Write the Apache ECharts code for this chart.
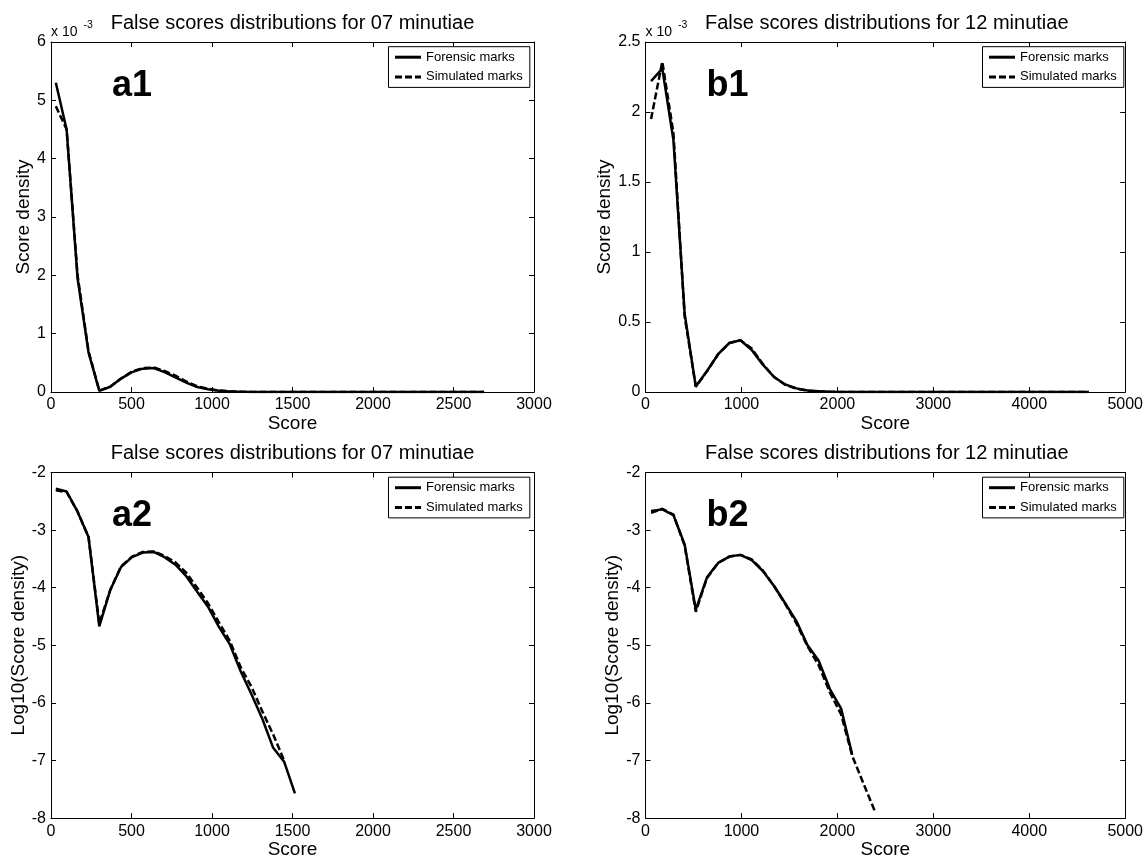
<!DOCTYPE html>
<html><head><meta charset="utf-8">
<script src="https://cdn.jsdelivr.net/npm/echarts@6/dist/echarts.min.js"></script>
<style>html,body{margin:0;padding:0;background:#fff}#c{width:1146px;height:860px}</style>
</head><body><div id="c"></div>
<script>
// ---------- data ----------
const titles = ['False scores distributions for 07 minutiae', 'False scores distributions for 12 minutiae',
                'False scores distributions for 07 minutiae', 'False scores distributions for 12 minutiae'];
const panelLetters = ['a1', 'b1', 'a2', 'b2'];
const seriesNames = ['Forensic marks', 'Simulated marks'];

// 07 minutiae, linear density (units of 10^-3)
const scoreA1 = [30,97,165,233,300,368,435,503,570,638,705,773,840,908,975,1043,1110,1178,1245,1313,1380,1448,1515,1583,2690];
const a1Forensic = [5.30,4.50,1.95,0.68,0.02,0.09,0.23,0.34,0.40,0.41,0.34,0.25,0.16,0.085,0.047,0.021,0.010,0.0035,0.0014,0.0005,0.0002,0.0001,0.00003,0,0];
const a1Simulated = [4.90,4.50,2.00,0.70,0.025,0.09,0.23,0.35,0.41,0.42,0.36,0.28,0.18,0.10,0.054,0.025,0.012,0.004,0.0019,0.0007,0.0003,0.0001,0,0,0];

// 12 minutiae, linear density (units of 10^-3)
const scoreB1 = [58,175,291,408,524,641,757,874,990,1107,1223,1340,1456,1573,1689,1806,1922,2039,2155,2272,2388,4620];
const b1Forensic = [2.22,2.31,1.80,0.56,0.04,0.15,0.27,0.35,0.37,0.30,0.195,0.107,0.054,0.026,0.010,0.0054,0.0017,0.0008,0.00013,0,0,0];
const b1Simulated = [1.95,2.36,1.85,0.54,0.038,0.148,0.27,0.35,0.37,0.31,0.20,0.107,0.052,0.024,0.0095,0.0045,0.0015,0.0006,0.00012,0.00004,0.000013,0];

// 07 minutiae, log10 density
const scoreA2 = [30,97,165,233,300,368,435,503,570,638,705,773,840,908,975,1043,1110,1178,1245,1313,1380,1448,1515];
const a2Forensic = [-2.28,-2.33,-2.68,-3.12,-4.67,-4.04,-3.64,-3.47,-3.39,-3.38,-3.47,-3.60,-3.80,-4.07,-4.33,-4.68,-4.98,-5.45,-5.85,-6.28,-6.78,-7.02,-7.57];
const a2Simulated = [-2.31,-2.34,-2.68,-3.12,-4.62,-4.04,-3.63,-3.46,-3.38,-3.37,-3.45,-3.56,-3.74,-4.00,-4.27,-4.60,-4.92,-5.38,-5.72,-6.15,-6.55,-7.00];

// 12 minutiae, log10 density
const scoreB2 = [58,175,291,408,524,641,757,874,990,1107,1223,1340,1456,1573,1689,1806,1922,2039,2155,2272,2388];
const b2Forensic = [-2.67,-2.64,-2.74,-3.25,-4.38,-3.82,-3.57,-3.46,-3.43,-3.52,-3.71,-3.97,-4.27,-4.58,-5.00,-5.27,-5.76,-6.10,-6.90];
const b2Simulated = [-2.70,-2.63,-2.73,-3.27,-4.42,-3.83,-3.57,-3.46,-3.43,-3.51,-3.70,-3.97,-4.28,-4.62,-5.02,-5.35,-5.82,-6.20,-6.92,-7.40,-7.87];

// axis ranges / ticks
const xRanges = [[0,3000,500],[0,5000,1000],[0,3000,500],[0,5000,1000]];
const yRanges = [[0,6,1],[0,2.5,0.5],[-8,-2,1],[-8,-2,1]];
const yNames = ['Score density','Score density','Log10(Score density)','Log10(Score density)'];
const xName = 'Score';

// ---------- layout ----------
const FONT = '"Liberation Sans", Arial, Helvetica, sans-serif';
const grids = [
  {left: 51, top: 42, width: 483, height: 350},
  {left: 645.5, top: 42, width: 482.5, height: 350},
  {left: 51, top: 472.5, width: 483, height: 350},
  {left: 645.5, top: 472.5, width: 482.5, height: 350}
];
const yNameGaps = [16, 31, 18, 23];

const pairs = (xs, ys) => ys.map((v, i) => [xs[i], v]);
const panelData = [
  [pairs(scoreA1, a1Forensic), pairs(scoreA1, a1Simulated)],
  [pairs(scoreB1, b1Forensic), pairs(scoreB1, b1Simulated)],
  [pairs(scoreA2, a2Forensic), pairs(scoreA2, a2Simulated)],
  [pairs(scoreB2, b2Forensic), pairs(scoreB2, b2Simulated)]
];

const xAxes = [], yAxes = [], series = [], legends = [], graphics = [];
const black = '#000';
const plain = v => String(v);
grids.forEach((g, i) => {
  const [x0, x1, xi] = xRanges[i];
  const [y0, y1, yi] = yRanges[i];
  const common = (pos, showLabel) => ({
    gridIndex: i, type: 'value', position: pos,
    axisLine: {show: true, onZero: false, lineStyle: {color: black, width: 1}},
    axisTick: {show: true, inside: true, length: 5, lineStyle: {color: black, width: 1}},
    axisLabel: {show: showLabel, color: black, fontSize: 16, fontFamily: FONT, margin: 5,
                formatter: plain, showMinLabel: true, showMaxLabel: true, hideOverlap: false},
    splitLine: {show: false}
  });
  xAxes.push(Object.assign(common('bottom', true), {min: x0, max: x1, interval: xi,
    name: xName, nameLocation: 'middle', nameGap: 20,
    nameTextStyle: {color: black, fontSize: 19, fontFamily: FONT}}));
  xAxes.push(Object.assign(common('top', false), {min: x0, max: x1, interval: xi}));
  yAxes.push(Object.assign(common('left', true), {min: y0, max: y1, interval: yi,
    name: yNames[i], nameLocation: 'middle', nameGap: yNameGaps[i],
    nameTextStyle: {color: black, fontSize: 19, fontFamily: FONT}}));
  yAxes.push(Object.assign(common('right', false), {min: y0, max: y1, interval: yi}));

  panelData[i].forEach((d, k) => {
    series.push({
      name: seriesNames[k], type: 'line', xAxisIndex: 2 * i, yAxisIndex: 2 * i,
      data: d, symbol: 'none', smooth: false, animation: false, z: k === 0 ? 3 : 2,
      lineStyle: {color: black, width: 2.5, type: k === 0 ? 'solid' : [7, 3]},
      itemStyle: {color: black}
    });
  });

  legends.push({
    data: seriesNames, orient: 'vertical', selectedMode: false,
    left: g.left + g.width - 145.5, top: g.top + 4.7,
    backgroundColor: '#fff', borderColor: black, borderWidth: 1,
    padding: [4, 7, 4, 5], itemWidth: 26, itemHeight: 12, itemGap: 6.7,
    itemStyle: {opacity: 0, color: 'rgba(0,0,0,0)', borderWidth: 0},
    lineStyle: {width: 3, color: black},
    textStyle: {color: black, fontSize: 13, fontFamily: FONT}
  });

  // panel title
  graphics.push({type: 'text', x: g.left + g.width / 2, y: g.top - 19,
    style: {text: titles[i], textAlign: 'center', textVerticalAlign: 'middle',
            fontSize: 20, fontFamily: FONT, fill: black}});
  // panel letter
  graphics.push({type: 'text', x: g.left + 61, y: g.top + 62,
    style: {text: panelLetters[i], textAlign: 'left', textVerticalAlign: 'bottom',
            fontSize: 36, fontWeight: 'bold', fontFamily: FONT, fill: black}});
  // exponent marker for linear panels
  if (i < 2) {
    graphics.push({type: 'text', x: g.left, y: g.top - 3,
      style: {text: 'x 10', textAlign: 'left', textVerticalAlign: 'bottom',
              fontSize: 14, fontFamily: FONT, fill: black}});
    graphics.push({type: 'text', x: g.left + 32.5, y: g.top - 11,
      style: {text: '-3', textAlign: 'left', textVerticalAlign: 'bottom',
              fontSize: 10.5, fontFamily: FONT, fill: black}});
  }
});

const chart = echarts.init(document.getElementById('c'), null, {renderer: 'canvas'});
chart.setOption({
  backgroundColor: '#fff',
  animation: false,
  grid: grids.map(g => Object.assign({containLabel: false}, g)),
  xAxis: xAxes, yAxis: yAxes, series: series, legend: legends,
  graphic: graphics
});
</script></body></html>
